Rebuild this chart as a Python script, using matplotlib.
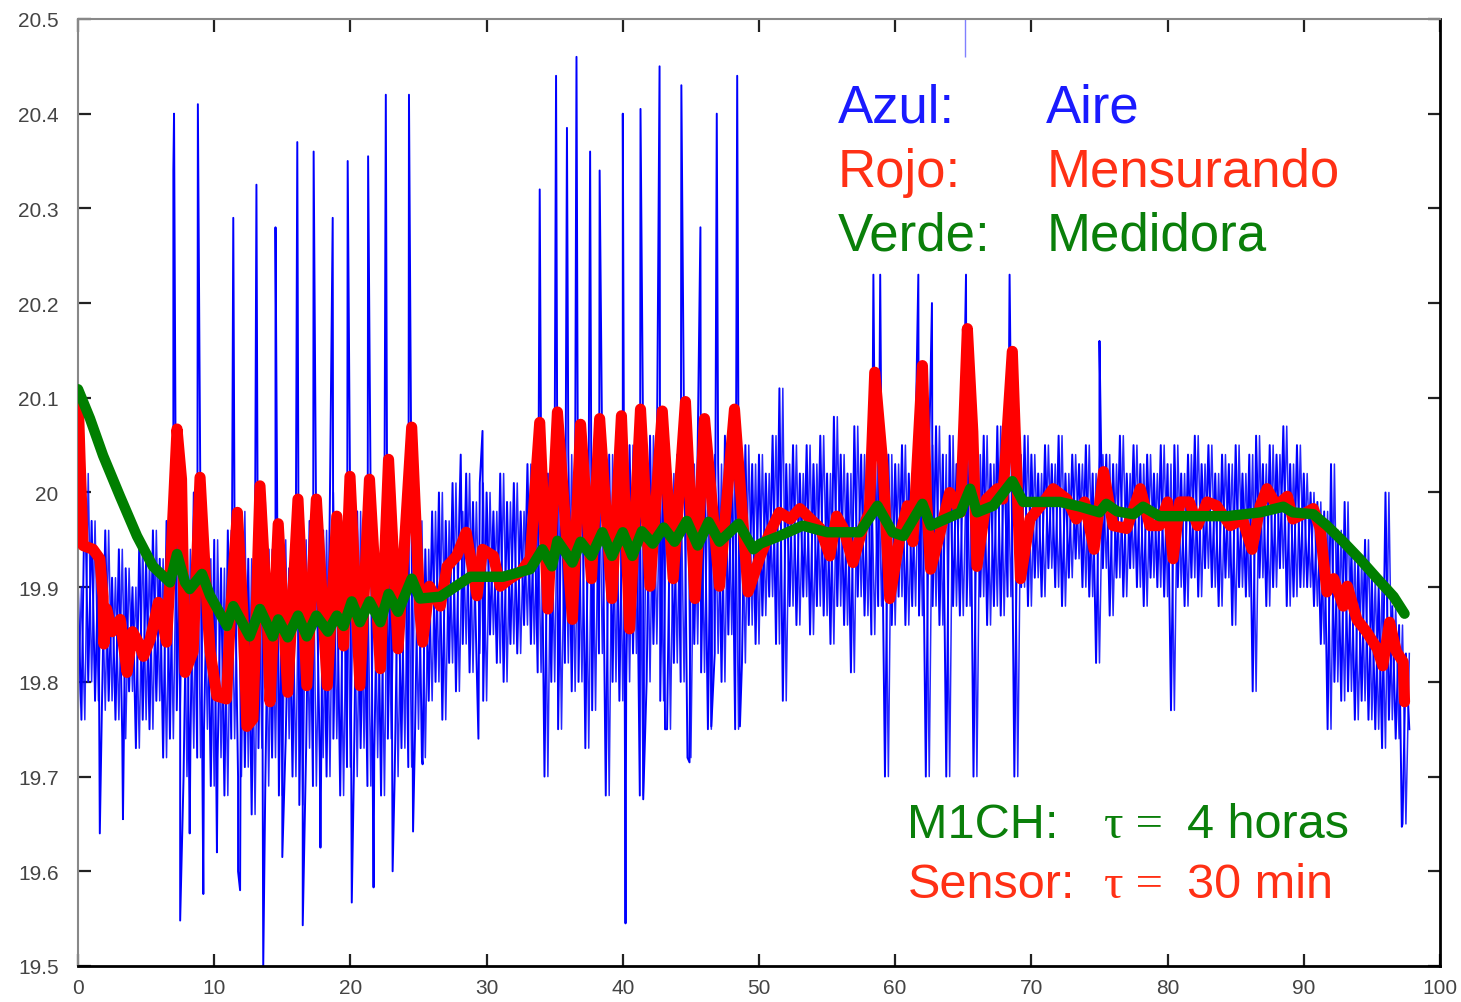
import numpy as np
import matplotlib.pyplot as plt

plt.rcParams['font.family'] = ['Liberation Sans', 'DejaVu Sans']

# --- blue (air): band top/bottom every 0.5 units, plus the isolated spikes and dips
blue_step = 0.5
blue_hi = [
    # 0 - 9.5
    19.90, 20.02, 19.97, 19.93, 19.96, 19.91, 19.94, 19.92, 19.90, 19.95,
    19.93, 19.96, 19.93, 19.97, 19.99, 19.97, 19.94, 20.00, 19.96, 19.93,
    # 10 - 19.5
    19.95, 19.92, 19.96, 19.94, 19.98, 19.93, 19.96, 19.99, 19.94, 19.97,
    19.95, 19.92, 19.98, 19.95, 19.97, 19.93, 19.96, 20.00, 19.94, 19.97,
    # 20 - 29.5
    19.95, 19.98, 19.93, 19.97, 19.94, 19.99, 19.96, 19.93, 19.98, 19.95,
    19.97, 19.94, 19.98, 20.00, 19.97, 20.01, 19.98, 20.02, 19.99, 20.01,
    # 30 - 39.5
    20.00, 19.98, 20.02, 19.99, 20.01, 19.98, 20.03, 20.00, 20.04, 20.02,
    20.05, 20.01, 20.04, 20.02, 20.05, 20.03, 20.06, 20.02, 20.04, 20.05,
    # 40 - 49.5
    20.03, 20.05, 20.02, 20.04, 20.06, 20.03, 20.05, 20.02, 20.04, 20.06,
    20.03, 20.05, 20.02, 20.04, 20.03, 20.06, 20.04, 20.02, 20.05, 20.03,
    # 50 - 59.5
    20.04, 20.02, 20.06, 20.11, 20.03, 20.05, 20.02, 20.05, 20.03, 20.06,
    20.02, 20.08, 20.04, 20.02, 20.07, 20.04, 20.03, 20.05, 20.02, 20.04,
    # 60 - 69.5
    20.03, 20.05, 20.02, 20.06, 20.03, 20.05, 20.07, 20.04, 20.06, 20.03,
    20.05, 20.08, 20.04, 20.06, 20.03, 20.07, 20.05, 20.09, 20.04, 20.06,
    # 70 - 79.5
    20.04, 20.02, 20.05, 20.03, 20.06, 20.02, 20.04, 20.03, 20.05, 20.02,
    20.04, 20.04, 20.03, 20.06, 20.02, 20.05, 20.03, 20.04, 20.02, 20.05,
    # 80 - 89.5
    20.03, 20.05, 20.02, 20.04, 20.06, 20.03, 20.05, 20.02, 20.04, 20.03,
    20.05, 20.02, 20.04, 20.06, 20.03, 20.05, 20.04, 20.07, 20.03, 20.05,
    # 90 - 97.5
    20.02, 20.00, 19.99, 19.98, 20.03, 19.96, 19.99, 19.94, 19.93, 19.95,
    19.91, 19.90, 20.00, 19.88, 19.86, 19.83,
]
blue_lo = [
    19.76, 19.80, 19.78, 19.77, 19.78, 19.76, 19.74, 19.79, 19.73, 19.76,
    19.75, 19.78, 19.72, 19.74, 19.77, 19.70, 19.73, 19.72, 19.75, 19.69,
    19.72, 19.68, 19.74, 19.70, 19.71, 19.66, 19.73, 19.69, 19.72, 19.68,
    19.74, 19.70, 19.67, 19.73, 19.69, 19.72, 19.70, 19.74, 19.68, 19.71,
    19.70, 19.73, 19.69, 19.72, 19.68, 19.74, 19.70, 19.73, 19.71, 19.75,
    19.72, 19.78, 19.80, 19.76, 19.82, 19.79, 19.84, 19.81, 19.83, 19.78,
    19.85, 19.82, 19.80, 19.84, 19.83, 19.86, 19.84, 19.81, 19.70, 19.80,
    19.75, 19.82, 19.79, 19.80, 19.73, 19.77, 19.83, 19.68, 19.80, 19.78,
    19.80, 19.83, 19.68, 19.80, 19.84, 19.78, 19.75, 19.82, 19.80, 19.72,
    19.84, 19.81, 19.75, 19.83, 19.80, 19.85, 19.75, 19.82, 19.86, 19.84,
    19.87, 19.89, 19.84, 19.78, 19.88, 19.86, 19.89, 19.85, 19.88, 19.87,
    19.84, 19.88, 19.86, 19.81, 19.89, 19.87, 19.85, 19.88, 19.70, 19.86,
    19.89, 19.86, 19.88, 19.87, 19.70, 19.88, 19.86, 19.70, 19.88, 19.87,
    19.88, 19.70, 19.89, 19.86, 19.88, 19.87, 19.89, 19.70, 19.90, 19.88,
    19.91, 19.89, 19.92, 19.90, 19.88, 19.91, 19.93, 19.90, 19.89, 19.82,
    19.92, 19.87, 19.91, 19.89, 19.92, 19.90, 19.88, 19.91, 19.90, 19.89,
    19.77, 19.90, 19.88, 19.91, 19.89, 19.92, 19.90, 19.88, 19.91, 19.86,
    19.90, 19.89, 19.79, 19.91, 19.88, 19.90, 19.92, 19.88, 19.89, 19.90,
    19.90, 19.88, 19.84, 19.75, 19.80, 19.78, 19.79, 19.76, 19.78, 19.76,
    19.75, 19.73, 19.76, 19.74, 19.65, 19.75,
]
spike_x = [7.0, 7.05, 8.8, 11.4, 13.1, 14.5, 16.1, 17.3, 18.7, 19.8, 21.3,
           22.6, 24.3, 28.1, 29.7, 33.9, 35.1, 35.9, 36.6, 37.6, 38.3, 40.0,
           41.3, 42.7, 44.3, 45.7, 46.9, 48.4, 58.4, 58.9, 61.7, 62.7, 65.2,
           68.4, 75.0]
spike_top = [20.34, 20.40, 20.41, 20.29, 20.325, 20.28, 20.37, 20.36, 20.29,
             20.35, 20.355, 20.42, 20.42, 20.04, 20.065, 20.32, 20.44, 20.385,
             20.46, 20.36, 20.34, 20.40, 20.405, 20.45, 20.43, 20.28, 20.40,
             20.44, 20.23, 20.23, 20.23, 20.20, 20.23, 20.23, 20.16]
dip_x = [1.6, 3.3, 7.5, 8.2, 9.2, 10.2, 11.75, 11.9, 13.6, 15.0, 16.5, 17.8,
         20.1, 21.7, 23.1, 24.6, 25.3, 29.4, 40.2, 41.5, 43.1, 44.9, 46.5,
         48.6, 97.2]
dip_bottom = [19.64, 19.655, 19.548, 19.64, 19.576, 19.62, 19.60, 19.58, 19.50,
              19.615, 19.543, 19.625, 19.567, 19.583, 19.60, 19.642, 19.713,
              19.74, 19.545, 19.676, 19.75, 19.715, 19.753, 19.753, 19.647]

# --- red (sensor / mensurando): turning points
red_x = [0.0, 0.15, 0.37, 1.1, 1.6, 1.84, 1.9, 2.1, 2.5, 3.1, 3.6, 4.0, 4.5,
         4.8, 5.3, 5.9, 6.5, 6.75, 7.27, 7.6, 7.86, 8.45, 8.96, 9.5, 9.7,
         10.2, 10.9, 11.2, 11.7, 12.1, 12.4, 12.85, 13.36, 13.9, 14.1, 14.7,
         15.4, 16.15, 16.8, 17.5, 18.3, 19.0, 19.5, 19.97, 20.7, 21.4, 22.2,
         22.8, 23.5, 24.5, 25.1, 25.3, 25.8, 26.6, 27.1, 27.8, 28.5, 29.3,
         29.7, 30.5, 31.0, 31.7, 32.5, 33.2, 33.9, 34.5, 35.2, 36.3, 36.9,
         37.7, 38.3, 39.2, 39.9, 40.5, 41.3, 42.0, 42.9, 43.7, 44.6, 45.3,
         46.0, 47.1, 48.2, 49.2, 50.1, 50.8, 51.5, 52.3, 53.0, 54.0, 54.5,
         55.2, 55.7, 56.2, 56.9, 57.6, 58.1, 58.5, 59.1, 59.6, 60.4, 60.9,
         61.3, 62.0, 62.3, 62.6, 63.3, 64.0, 64.8, 65.3, 65.7, 66.0, 66.7,
         67.5, 67.9, 68.6, 68.9, 69.2, 69.9, 70.9, 71.6, 72.6, 73.3, 73.9,
         74.6, 75.3, 76.0, 77.0, 78.0, 78.7, 79.4, 80.0, 80.4, 80.9, 81.6,
         82.2, 82.9, 83.6, 84.6, 85.5, 86.2, 86.8, 87.3, 88.0, 88.8, 89.2,
         90.2, 90.7, 91.2, 91.7, 92.2, 92.9, 93.2, 93.9, 94.6, 95.4, 95.8,
         96.3, 96.8, 97.3, 97.4]
red_y = [20.105, 20.035, 19.944, 19.94, 19.93, 19.89, 19.84, 19.877, 19.853,
         19.866, 19.81, 19.853, 19.84, 19.827, 19.845, 19.884, 19.842, 19.909,
         20.067, 20.014, 19.81, 19.832, 20.016, 19.874, 19.832, 19.785, 19.782,
         19.874, 19.979, 19.874, 19.753, 19.761, 20.007, 19.866, 19.779, 19.967,
         19.789, 19.993, 19.796, 19.993, 19.796, 19.975, 19.838, 20.017, 19.796,
         20.014, 19.814, 20.035, 19.835, 20.069, 19.874, 19.842, 19.901, 19.88,
         19.922, 19.933, 19.958, 19.891, 19.94, 19.933, 19.901, 19.909, 19.916,
         19.93, 20.074, 19.877, 20.085, 19.866, 20.072, 19.909, 20.078, 19.888,
         20.081, 19.856, 20.088, 19.901, 20.086, 19.909, 20.096, 19.888, 20.078,
         19.901, 20.088, 19.895, 19.933, 19.958, 19.979, 19.972, 19.983, 19.969,
         19.962, 19.933, 19.975, 19.962, 19.926, 19.962, 19.979, 20.127, 20.028,
         19.888, 19.958, 19.986, 19.948, 20.134, 19.993, 19.919, 19.958, 20.0,
         19.979, 20.173, 20.064, 19.922, 19.993, 20.004, 19.993, 20.149, 20.028,
         19.909, 19.972, 19.99, 20.004, 19.993, 19.972, 19.99, 19.94, 20.022,
         19.965, 19.962, 20.004, 19.965, 19.965, 19.99, 19.93, 19.99, 19.99,
         19.965, 19.99, 19.986, 19.965, 19.972, 19.94, 19.986, 20.004, 19.986,
         19.996, 19.972, 19.979, 19.983, 19.962, 19.895, 19.909, 19.88, 19.901,
         19.866, 19.853, 19.835, 19.817, 19.863, 19.832, 19.821, 19.779]

# --- green (M1CH / medidora): turning points
green_x = [0.0, 0.88, 1.84, 3.08, 4.33, 5.5, 6.75, 7.27, 7.86, 8.2, 9.1, 9.7,
           10.94, 11.4, 12.6, 13.36, 14.3, 14.7, 15.4, 16.15, 16.8, 17.5,
           18.35, 19.0, 19.5, 20.1, 20.7, 21.4, 22.2, 22.8, 23.5, 24.5, 25.1,
           26.6, 28.8, 31.2, 33.2, 34.1, 34.8, 35.2, 36.3, 36.9, 37.7, 38.5,
           39.2, 40.0, 40.7, 41.4, 42.2, 43.0, 43.8, 44.7, 45.5, 46.3, 47.1,
           48.5, 49.6, 50.1, 51.5, 53.2, 55.0, 57.4, 58.7, 59.8, 60.6, 62.0,
           62.6, 64.8, 65.5, 66.0, 67.2, 68.6, 69.4, 72.1, 73.6, 75.0, 75.5,
           76.3, 77.5, 78.2, 79.4, 81.9, 84.4, 86.8, 88.5, 89.2, 90.7, 91.7,
           92.9, 94.1, 95.4, 96.6, 97.4]
green_y = [20.109, 20.078, 20.039, 19.996, 19.954, 19.922, 19.905, 19.935,
           19.905, 19.898, 19.914, 19.891, 19.859, 19.88, 19.848, 19.877,
           19.848, 19.866, 19.847, 19.87, 19.848, 19.87, 19.853, 19.87, 19.859,
           19.885, 19.863, 19.885, 19.863, 19.893, 19.874, 19.909, 19.888,
           19.89, 19.911, 19.911, 19.919, 19.94, 19.922, 19.949, 19.926, 19.948,
           19.933, 19.958, 19.933, 19.958, 19.933, 19.959, 19.946, 19.963,
           19.948, 19.97, 19.944, 19.969, 19.948, 19.967, 19.94, 19.946, 19.954,
           19.965, 19.958, 19.958, 19.986, 19.958, 19.954, 19.988, 19.965,
           19.979, 20.004, 19.979, 19.986, 20.012, 19.99, 19.99, 19.985, 19.979,
           19.988, 19.98, 19.977, 19.985, 19.975, 19.975, 19.975, 19.979,
           19.985, 19.979, 19.977, 19.965, 19.948, 19.93, 19.909, 19.89, 19.872]

x_ticks = [0, 10, 20, 30, 40, 50, 60, 70, 80, 90, 100]
y_ticks = [19.5, 19.6, 19.7, 19.8, 19.9, 20.0, 20.1, 20.2, 20.3, 20.4, 20.5]
y_ticklabels = ['19.5', '19.6', '19.7', '19.8', '19.9', '20', '20.1', '20.2',
                '20.3', '20.4', '20.5']


def blue_trace(phase):
    # phase 0: top at x, bottom a quarter step later (with spikes and dips)
    # phase 1: the crossing stroke, previous bottom at x, top a quarter later
    xs, ys = [], []
    n = len(blue_hi)
    for i in range(n):
        x0 = i * blue_step
        xs += [x0, x0 + blue_step / 2]
        if phase == 0:
            ys += [blue_hi[i], blue_lo[i]]
        else:
            ys += [blue_lo[max(i - 1, 0)], blue_hi[i]]
    if phase == 0:
        xs += spike_x + dip_x
        ys += spike_top + dip_bottom
    order = np.argsort(xs, kind='stable')
    return np.array(xs)[order], np.array(ys)[order]


fig = plt.figure(figsize=(14.61, 10.03), dpi=100)
ax = fig.add_axes([0.0534, 0.0359, 0.9322, 0.9442])

bx, by = blue_trace(0)
ax.plot(bx, by, color='#0000ff', lw=1.4, zorder=2)
bx2, by2 = blue_trace(1)
ax.plot(bx2, by2, color='#0000ff', lw=1.1, alpha=0.85, zorder=2)
ax.vlines(65.1, 20.46, 20.5, color='#8080ff', lw=1.0, zorder=2)
ax.plot(red_x, red_y, color='#ff0000', lw=8, solid_joinstyle='round',
        solid_capstyle='round', zorder=3)
ax.plot(green_x, green_y, color='#007f00', lw=7.5, solid_joinstyle='round',
        solid_capstyle='round', zorder=4)

ax.set_xlim(0, 100)
ax.set_ylim(19.5, 20.5)
ax.set_xticks(x_ticks)
ax.set_yticks(y_ticks)
ax.set_yticklabels(y_ticklabels)
ax.tick_params(direction='in', length=9, width=1.6, colors='#222222',
               top=True, right=True, labelsize=15, labelcolor='#444444')
ax.tick_params(axis='y', pad=14)
ax.tick_params(axis='x', pad=9)
for s in ['left', 'top']:
    ax.spines[s].set_color('#888888')
    ax.spines[s].set_linewidth(1.5)
for s in ['right', 'bottom']:
    ax.spines[s].set_color('#000000')
    ax.spines[s].set_linewidth(2)

# legend-like annotations
fs = 38
fs2 = 35
blue_c, red_c, green_c = '#1a1aff', '#ff3015', '#0a7f0a'
serif = ['Liberation Serif', 'DejaVu Serif']
ax.text(55.8, 20.392, 'Azul:', color=blue_c, fontsize=fs, va='baseline')
ax.text(71.1, 20.392, 'Aire', color=blue_c, fontsize=fs, va='baseline')
ax.text(55.8, 20.324, 'Rojo:', color=red_c, fontsize=fs, va='baseline')
ax.text(71.1, 20.324, 'Mensurando', color=red_c, fontsize=fs, va='baseline')
ax.text(55.8, 20.257, 'Verde:', color=green_c, fontsize=fs, va='baseline')
ax.text(71.1, 20.257, 'Medidora', color=green_c, fontsize=fs, va='baseline')

ax.text(60.9, 19.636, 'M1CH:', color=green_c, fontsize=fs2, va='baseline')
ax.text(75.3, 19.636, 'τ =', color=green_c, fontsize=fs2, va='baseline',
        family=serif)
ax.text(81.4, 19.636, '4 horas', color=green_c, fontsize=fs2, va='baseline')
ax.text(60.9, 19.573, 'Sensor:', color=red_c, fontsize=fs2, va='baseline')
ax.text(75.3, 19.573, 'τ =', color=red_c, fontsize=fs2, va='baseline',
        family=serif)
ax.text(81.4, 19.573, '30 min', color=red_c, fontsize=fs2, va='baseline')

fig.savefig('out.png', dpi=100)
